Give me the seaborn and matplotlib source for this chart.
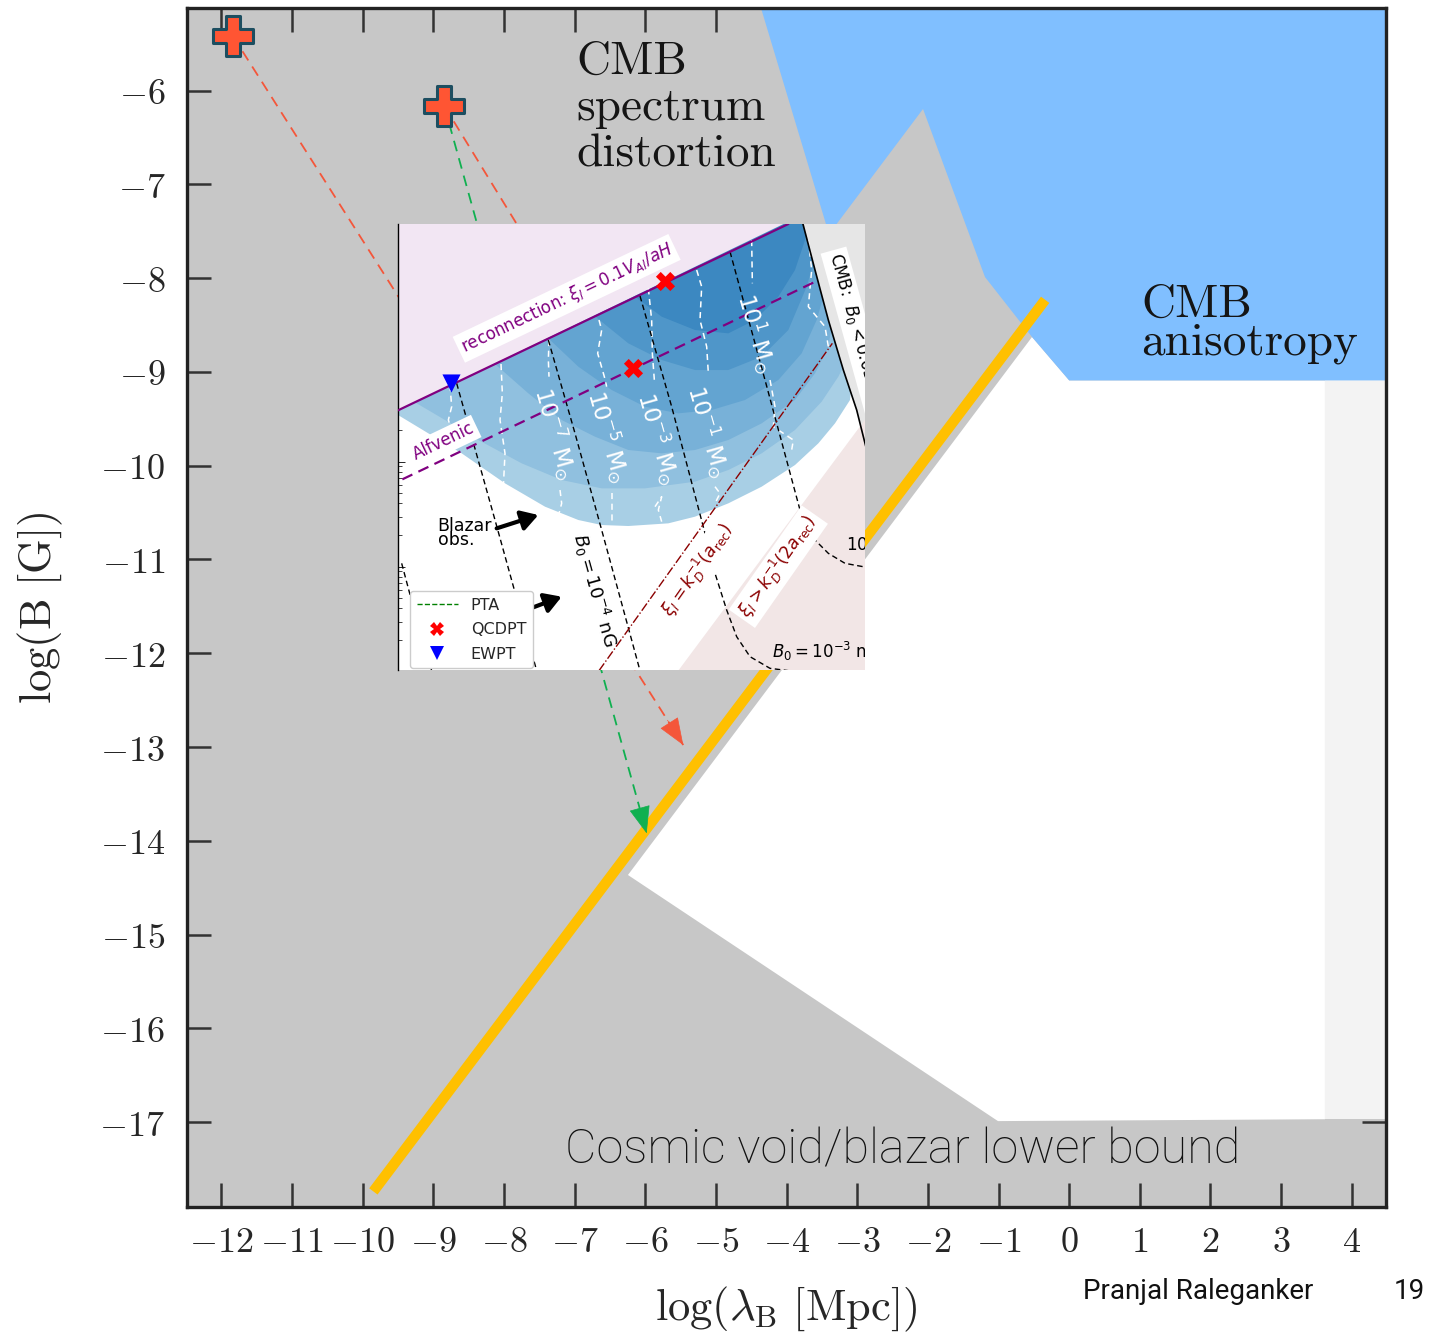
import numpy as np
import pandas as pd
import matplotlib
matplotlib.use("Agg")
import matplotlib.pyplot as plt
import seaborn as sns
from matplotlib.lines import Line2D

# ---------------- main panel data : log10(lambda_B [Mpc]) vs log10(B [G]) ----------------
x_ticks = [-12, -11, -10, -9, -8, -7, -6, -5, -4, -3, -2, -1, 0, 1, 2, 3, 4]
x_tick_labels = [r"$-12$", r"$-11$", r"$-10$", r"$-9$", r"$-8$", r"$-7$", r"$-6$", r"$-5$",
                 r"$-4$", r"$-3$", r"$-2$", r"$-1$", r"$0$", r"$1$", r"$2$", r"$3$", r"$4$"]
y_ticks = [-6, -7, -8, -9, -10, -11, -12, -13, -14, -15, -16, -17]
y_tick_labels = [r"$-6$", r"$-7$", r"$-8$", r"$-9$", r"$-10$", r"$-11$", r"$-12$",
                 r"$-13$", r"$-14$", r"$-15$", r"$-16$", r"$-17$"]

# CMB anisotropy exclusion (blue)
anis_x = [-4.41, 4.6, 4.6, 0.0, -0.526, -1.192, -2.069, -3.40]
anis_y = [-5.0, -5.0, -9.09, -9.09, -8.627, -7.987, -6.195, -7.53]
# allowed (white) region
allowed_x = [-0.526, 0.0, 3.621, 3.621, -1.008, -6.246]
allowed_y = [-8.627, -9.09, -9.09, -16.97, -16.99, -14.365]
# light strip on the right
strip_x = [3.621, 4.6, 4.6, 3.621]
strip_y = [-9.09, -9.09, -16.97, -16.97]
# orange evolution line
orange_x = [-9.85, -0.34]
orange_y = [-17.74, -8.23]
# plus markers (phase transitions)
plus_x = [-11.84, -8.846]
plus_y = [-5.417, -6.163]
# dashed evolution tracks
red1_x, red1_y = [-11.84, -5.463], [-5.417, -12.979]
red2_x, red2_y = [-8.846, -6.29], [-6.163, -9.30]
green_x, green_y = [-8.846, -5.981], [-6.163, -13.921]

# ---------------- inset data (inset units) ----------------
recon_x, recon_y = [9, 1180], [571, 12]
alfven_x, alfven_y = [22, 1265], [778, 183]
cmb_line = [(1222, 5), (1260, 150), (1300, 300), (1345, 450), (1385, 570), (1415, 690)]
pink_low = [(850, 1352), (1415, 1352), (1415, 590)]
band_edges = [
    [(9, 585), (100, 640), (200, 700), (330, 790), (450, 860), (550, 900), (620, 915), (700, 918),
     (820, 910), (900, 890), (1000, 850), (1100, 800), (1200, 735), (1270, 670), (1320, 610), (1365, 540)],
    [(60, 547), (150, 600), (250, 660), (380, 730), (500, 780), (620, 805), (750, 805), (900, 785),
     (1000, 750), (1100, 700), (1200, 630), (1280, 545), (1330, 470), (1345, 440)],
    [(300, 432), (400, 520), (500, 600), (600, 650), (700, 690), (800, 700), (900, 690), (1000, 660),
     (1100, 610), (1200, 540), (1260, 460), (1300, 380), (1310, 320)],
    [(460, 355), (550, 440), (650, 510), (750, 560), (850, 580), (950, 570), (1050, 540), (1150, 480),
     (1220, 400), (1265, 300), (1285, 230)],
    [(600, 289), (700, 370), (800, 420), (900, 450), (1000, 450), (1100, 410), (1180, 330),
     (1235, 200), (1255, 130)],
    [(720, 230), (800, 290), (900, 330), (1000, 340), (1080, 300), (1150, 230), (1200, 150),
     (1230, 60), (1235, 12)],
]
band_colors = ["#a8cfe5", "#90c0df", "#78b1d8", "#63a4d1", "#4f96c9", "#3c88c1"]
mass_contours = [
    [(165, 495), (170, 560), (160, 600), (175, 645)],
    [(318, 432), (322, 520), (315, 600), (330, 700), (325, 800)],
    [(462, 360), (460, 420), (462, 470)],
    [(495, 810), (500, 850), (492, 880)],
    [(612, 300), (620, 330), (608, 400), (628, 470), (635, 500)],
    [(650, 820), (650, 915)],
    [(760, 205), (770, 300), (772, 400), (778, 480)],
    [(780, 860), (800, 830), (790, 870), (800, 905)],
    [(905, 150), (920, 200), (915, 300), (935, 380), (940, 460)],
    [(960, 800), (975, 820), (960, 850)],
    [(1070, 60), (1072, 190)],
    [(1125, 480), (1140, 560), (1135, 620), (1195, 660), (1190, 690)],
    [(1240, 60), (1250, 150), (1240, 260), (1290, 320), (1300, 380)],
]
b0_lines = [
    [(185, 490), (300, 900), (425, 1352)],
    [(460, 360), (540, 640), (620, 930), (735, 1352)],
    [(735, 228), (830, 560), (930, 940), (960, 1060), (995, 1170), (1025, 1250), (1065, 1310),
     (1125, 1345), (1180, 1352)],
    [(1005, 95), (1110, 480), (1215, 870), (1250, 950), (1300, 1000), (1350, 1030), (1415, 1042)],
    [(20, 1030), (60, 1180), (110, 1352)],
]
damp_x, damp_y = [612, 1312], [1352, 370]
qcd_x, qcd_y = [810, 715], [182, 445]
ew_x, ew_y = [167], [490]
mass_labels = [r"$10^{-7}\ \mathrm{M}_{\odot}$", r"$10^{-5}\ \mathrm{M}_{\odot}$",
               r"$10^{-3}\ \mathrm{M}_{\odot}$", r"$10^{-1}\ \mathrm{M}_{\odot}$",
               r"$10^{1}\ \mathrm{M}_{\odot}$"]
mass_label_x = [482, 640, 790, 940, 1085]
mass_label_y = [640, 650, 655, 635, 340]

# ---------------- style ----------------
sns.set_style("ticks")
plt.rcParams["font.family"] = ["DejaVu Sans"]
plt.rcParams["mathtext.fontset"] = "dejavusans"

fig = plt.figure(figsize=(14.31, 13.33), dpi=100)
ax = fig.add_axes([0.13089, 0.09475, 0.83746, 0.89903])
ax.set_facecolor("#c7c7c7")
ax.set_xlim(-12.484, 4.481)
ax.set_ylim(-17.903, -5.121)

ax.fill(allowed_x, allowed_y, color="white", lw=0, zorder=1)
ax.fill(strip_x, strip_y, color="#f3f3f3", lw=0, zorder=1)
ax.fill(anis_x, anis_y, color="#80bfff", lw=0, zorder=1)

sns.lineplot(x=orange_x, y=orange_y, ax=ax, color="#ffc000", lw=7.5,
             solid_capstyle="butt", zorder=3, legend=False)

for xs, ys, c in [(red1_x, red1_y, "#f4563a"), (red2_x, red2_y, "#f4563a"), (green_x, green_y, "#10b050")]:
    sns.lineplot(x=xs, y=ys, ax=ax, color=c, lw=1.3, sort=False, zorder=4,
                 dashes=False, linestyle=(0, (6, 4)), legend=False)

def head(axx, x0, y0, x1, y1, color):
    sx = x1 - 0.035 * (x1 - x0)
    sy = y1 - 0.035 * (y1 - y0)
    axx.annotate("", xy=(x1, y1), xytext=(sx, sy), zorder=5,
                 arrowprops=dict(arrowstyle="-|>,head_length=0.9,head_width=0.35", color=color,
                                 lw=0.5, shrinkA=0, shrinkB=0, mutation_scale=20))

head(ax, red1_x[0], red1_y[0], red1_x[1], red1_y[1], "#f4563a")
head(ax, green_x[0], green_y[0], green_x[1], green_y[1], "#10b050")

sns.scatterplot(x=plus_x, y=plus_y, ax=ax, marker="P", s=800, color="#ff5533",
                edgecolor="#1d4e60", linewidth=2.2, zorder=6, legend=False)

ax.set_xticks(x_ticks)
ax.set_xticklabels(x_tick_labels, fontsize=26, math_fontfamily="cm")
ax.set_yticks(y_ticks)
ax.set_yticklabels(y_tick_labels, fontsize=26, math_fontfamily="cm")
ax.tick_params(axis="both", which="major", direction="in", length=17, width=1.8,
               color="#333333", top=True, right=True)
ax.tick_params(axis="x", pad=13)
ax.tick_params(axis="y", pad=16)
for s in ax.spines.values():
    s.set_linewidth(2.4)
    s.set_color("#222222")
    s.set_zorder(10)

ax.set_xlabel(r"$\log(\lambda_{\mathrm{B}}\ [\mathrm{Mpc}])$", fontsize=32, math_fontfamily="cm")
ax.xaxis.set_label_coords(0.4996, -0.0653)
ax.set_ylabel(r"$\log(\mathrm{B}\ [\mathrm{G}])$", fontsize=32, math_fontfamily="cm")
ax.yaxis.set_label_coords(-0.102, 0.5)

for txt, yb in [("CMB", -5.822), ("spectrum", -6.3125), ("distortion", -6.807)]:
    ax.text(-6.98, yb, txt, fontfamily="cmr10", fontsize=34, va="baseline", ha="left",
            color="#151515", zorder=7)
for txt, yb in [("CMB", -8.414), ("anisotropy", -8.809)]:
    ax.text(1.017, yb, txt, fontfamily="cmr10", fontsize=34, va="baseline", ha="left",
            color="#151515", zorder=7)
ax.text(-2.36, -17.438, "Cosmic void/blazar lower bound", fontfamily="Roboto", fontweight="light",
        fontsize=35, ha="center", va="baseline", color="#111111", zorder=7)

fig.text(0.7568, 0.0255, "Pranjal Raleganker", fontfamily="Roboto", fontsize=20,
         va="baseline", ha="left", color="#111111")
fig.text(0.974, 0.0255, "19", fontfamily="Roboto", fontsize=20, va="baseline", ha="left",
         color="#111111")

# ---------------- inset ----------------
ins = fig.add_axes([0.27813, 0.49737, 0.32635, 0.33458])
ins.set_xlim(9, 1410)
ins.set_ylim(1350, 12)
ins.set_facecolor("white")

for edge, col in zip(band_edges, band_colors):
    xs = [p[0] for p in edge] + [1415, 9]
    ys = [p[1] for p in edge] + [12, 12]
    ins.fill(xs, ys, color=col, lw=0, zorder=1)

ins.fill([9, 9, 1180], [5, 571, 5], color="#f2e6f3", lw=0, zorder=2)
ins.fill([p[0] for p in cmb_line] + [1415], [p[1] for p in cmb_line] + [5],
         color="#e6e6e6", lw=0, zorder=2)
ins.fill([p[0] for p in pink_low], [p[1] for p in pink_low], color="#f2e6e6", lw=0, zorder=2)

for c in mass_contours:
    ins.plot([p[0] for p in c], [p[1] for p in c], color="white", lw=1.1, ls=(0, (4, 3)), zorder=3)
for c in b0_lines:
    ins.plot([p[0] for p in c], [p[1] for p in c], color="black", lw=1.0, ls=(0, (4, 2.5)), zorder=3)
ins.plot([p[0] for p in cmb_line], [p[1] for p in cmb_line], color="black", lw=1.2, zorder=3)
ins.plot(damp_x, damp_y, color="#8b0000", lw=1.0, ls="-.", zorder=3)
ins.plot(recon_x, recon_y, color="#800080", lw=1.6, zorder=4)
ins.plot(alfven_x, alfven_y, color="#800080", lw=1.6, ls=(0, (5, 3)), zorder=4)

sns.scatterplot(x=qcd_x, y=qcd_y, ax=ins, marker="X", s=190, color="red", linewidth=0,
                zorder=6, legend=False)
sns.scatterplot(x=ew_x, y=ew_y, ax=ins, marker="v", s=170, color="blue", linewidth=0,
                zorder=6, legend=False)

wbox = dict(boxstyle="square,pad=0.2", facecolor="white", edgecolor="none")
ins.text(515, 235, r"reconnection: $\xi_l = 0.1V_{Al}/aH$", color="#800080", fontsize=12,
         rotation=25.5, ha="center", va="center", rotation_mode="anchor", bbox=wbox, zorder=7)
ins.text(145, 665, "Alfvenic", color="#800080", fontsize=12, rotation=25.5, ha="center",
         va="center", rotation_mode="anchor", bbox=wbox, zorder=7)
for lab, lx, ly in zip(mass_labels, mass_label_x, mass_label_y):
    ins.text(lx, ly, lab, color="white", fontsize=16.5, rotation=-74, ha="center", va="center",
             rotation_mode="anchor", zorder=7)
ins.text(1318, 100, r"CMB:  $B_0 < 0.05$ nG", color="black", fontsize=12, rotation=-74.5,
         ha="left", va="center", rotation_mode="anchor", bbox=wbox, zorder=7, clip_on=True)
ins.text(600, 1110, r"$B_0 = 10^{-4}$ nG", color="black", fontsize=13, rotation=-74.5,
         ha="center", va="center", rotation_mode="anchor", zorder=7)
ins.text(910, 1050, r"$\xi_l = k_D^{-1}(a_{\rm rec})$", color="#8b0000", fontsize=12.5,
         rotation=55, ha="center", va="center", rotation_mode="anchor", bbox=wbox, zorder=7)
ins.text(1150, 1040, r"$\xi_l > k_D^{-1}(2a_{\rm rec})$", color="#8b0000", fontsize=12.5,
         rotation=55, ha="center", va="center", rotation_mode="anchor", bbox=wbox, zorder=7)
ins.text(1130, 1295, r"$B_0 = 10^{-3}$ nG", color="black", fontsize=12, ha="left",
         va="center", zorder=7, clip_on=True)
ins.text(1352, 975, r"$10^{-2}$ nG", color="black", fontsize=12, ha="left", va="center",
         zorder=7, clip_on=True)
ins.text(128, 890, "Blazar\nobs.", color="black", fontsize=12.5, ha="left", va="top",
         linespacing=0.75, zorder=7)
for (x0, y0), (x1, y1) in [((305, 925), (430, 885)), ((380, 1175), (500, 1130))]:
    ins.annotate("", xy=(x1, y1), xytext=(x0, y0), zorder=7,
                 arrowprops=dict(arrowstyle="-|>,head_length=0.5,head_width=0.3", color="black",
                                 lw=3, shrinkA=0, shrinkB=0, mutation_scale=20))

handles = [Line2D([], [], color="green", ls="--", lw=1),
           Line2D([], [], color="red", marker="X", ls="none", ms=10, mew=0),
           Line2D([], [], color="blue", marker="v", ls="none", ms=10, mew=0)]
leg = ins.legend(handles, ["PTA", "QCDPT", "EWPT"], loc="lower left", bbox_to_anchor=(0.026, 0.004),
                 fontsize=11.5, frameon=True, borderaxespad=0, handlelength=2.6,
                 labelspacing=0.6, framealpha=1, fancybox=True, borderpad=0.4)
leg.get_frame().set_edgecolor("#cccccc")
leg.set_zorder(8)

decades = [-220, 95, 410, 725, 1040, 1355]
minor = [b + 315 * (1 - np.log10(m)) for b in decades for m in range(2, 10)]
ins.set_yticks([d for d in decades if 12 <= d <= 1350])
ins.set_yticks([m for m in minor if 12 <= m <= 1350], minor=True)
ins.set_xticks([])
ins.tick_params(axis="y", which="major", direction="in", length=5, width=0.7, labelleft=False)
ins.tick_params(axis="y", which="minor", direction="in", length=3, width=0.6, labelleft=False)
for side in ["top", "right", "bottom"]:
    ins.spines[side].set_visible(False)
ins.spines["left"].set_linewidth(1.0)
ins.spines["left"].set_color("black")

fig.savefig("out.png", dpi=100)
